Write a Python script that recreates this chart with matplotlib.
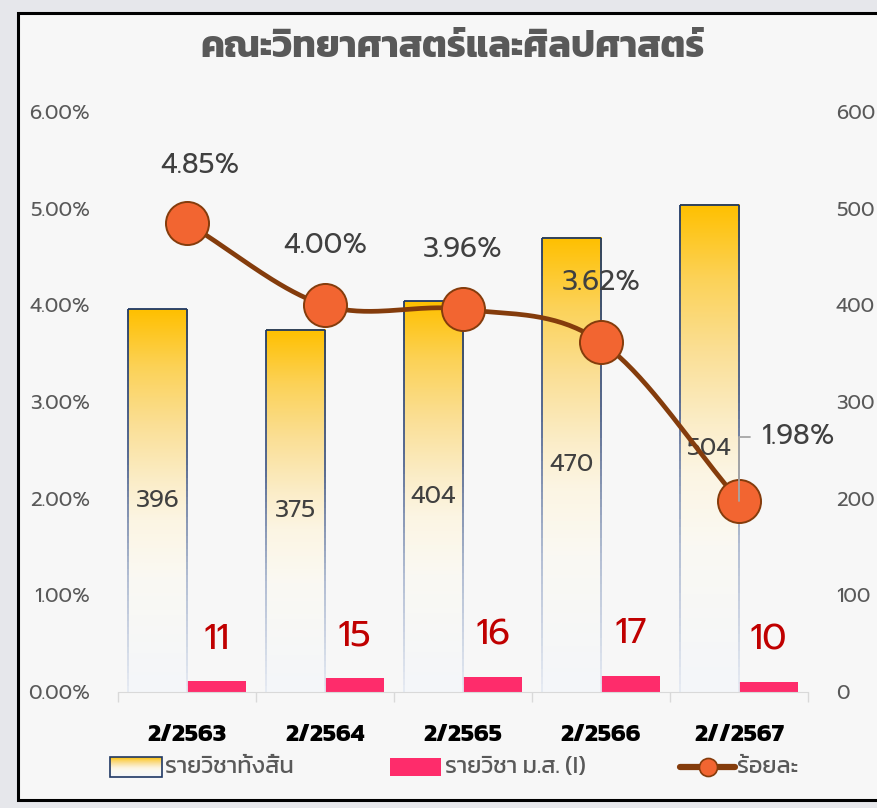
import numpy as np
import matplotlib
matplotlib.use('Agg')
import matplotlib.pyplot as plt
from matplotlib.colors import LinearSegmentedColormap
from matplotlib.collections import LineCollection
from matplotlib.patches import Rectangle
from matplotlib.ticker import PercentFormatter, FixedLocator

# ข้อมูล
terms      = ['2/2563', '2/2564', '2/2565', '2/2566', '2//2567']
total_subj = [396, 375, 404, 470, 504]
ms_subj    = [11, 15, 16, 17, 10]
pct        = [4.85, 4.00, 3.96, 3.62, 1.98]

NUM_FONT  = ['Prompt', 'DejaVu Sans']
THAI_FONT = ['Kanit', 'DejaVu Sans']
GREY      = '#595959'
DARK      = '#404040'
NAVY      = '#1F3864'
PINK      = '#FE2C6B'
BROWN     = '#843C0C'
ORANGE    = '#F26531'

plt.rcParams['font.family'] = NUM_FONT

W, H = 878, 808
fig = plt.figure(figsize=(W / 100, H / 100), dpi=100)
fig.patch.set_facecolor('#E6E7EB')

# พื้นหลัง + กรอบ
bg = fig.add_axes([0, 0, 1, 1], zorder=-5)
bg.set_xlim(0, W); bg.set_ylim(H, 0); bg.axis('off')
bg.add_patch(Rectangle((18, 13), W, 787, facecolor='#F7F7F7', edgecolor='black', lw=2.2))

# แกนหลัก (ร้อยละ) และแกนรอง (จำนวนรายวิชา)
ax = fig.add_axes([118 / W, 1 - 692 / H, 690 / W, 580 / H])
axr = ax.twinx()
ax.set_zorder(axr.get_zorder() + 1)
ax.patch.set_visible(False)
axr.patch.set_visible(False)

x = np.arange(len(terms))
bw = 0.43

gold = LinearSegmentedColormap.from_list('gold', [
    (0.0, '#F4F6FA'), (0.3, '#FAF9F3'), (0.45, '#FCF5E3'), (0.55, '#FBEDC8'),
    (0.7, '#FADF95'), (0.85, '#FCD257'), (1.0, '#FFC000')])
edge = LinearSegmentedColormap.from_list('edge', [
    (0.0, '#E4E9F2'), (0.3, '#A9B6CE'), (0.6, '#4A5F8C'), (1.0, NAVY)])
grad = np.linspace(0, 1, 256).reshape(-1, 1)

for i, v in enumerate(total_subj):
    x0, x1 = x[i] - bw, x[i]
    axr.imshow(grad, cmap=gold, origin='lower', aspect='auto',
               extent=[x0, x1, 0, v], zorder=2, interpolation='bicubic')
    ys = np.linspace(0, v, 60)
    for xe in (x0, x1):
        segs = [[(xe, ys[k]), (xe, ys[k + 1])] for k in range(len(ys) - 1)]
        lc = LineCollection(segs, colors=edge(ys[:-1] / v), linewidths=1.3, zorder=3)
        axr.add_collection(lc)
    axr.plot([x0, x1], [v, v], color=NAVY, lw=1.3, zorder=3, solid_capstyle='butt')
    axr.text(x[i] - bw / 2, v / 2, f'{v}', ha='center', va='center',
             fontsize=17.5, color=DARK, zorder=4)

axr.bar(x, ms_subj, width=bw, align='edge', color=PINK, zorder=2)
for i, v in enumerate(ms_subj):
    axr.annotate(f'{v}', (x[i] + bw / 2, v), xytext=(0, 42), textcoords='offset pixels',
                 ha='center', va='center', fontsize=26, color='#C00000')


def smooth(xs, ys, n=40):
    # Catmull-Rom ผ่านทุกจุด
    px = np.concatenate([[2 * xs[0] - xs[1]], xs, [2 * xs[-1] - xs[-2]]])
    py = np.concatenate([[2 * ys[0] - ys[1]], ys, [2 * ys[-1] - ys[-2]]])
    ox, oy = [], []
    t = np.linspace(0, 1, n)
    for k in range(1, len(px) - 2):
        for p, out in ((px, ox), (py, oy)):
            p0, p1, p2, p3 = p[k - 1], p[k], p[k + 1], p[k + 2]
            out.extend(0.5 * (2 * p1 + (-p0 + p2) * t + (2 * p0 - 5 * p1 + 4 * p2 - p3) * t ** 2
                              + (-p0 + 3 * p1 - 3 * p2 + p3) * t ** 3))
    return np.array(ox), np.array(oy)


frac = np.array(pct) / 100
sx, sy = smooth(x.astype(float), frac)
ax.plot(sx, sy, color=BROWN, lw=3.4, zorder=5, solid_capstyle='round')
ax.plot(x, frac, ls='none', marker='o', ms=31, mfc=ORANGE, mec=BROWN, mew=1.4, zorder=6)

offsets = [(13, 58), (0, 60), (0, 60), (0, 60)]
for i in range(4):
    ax.annotate(f'{pct[i]:.2f}%', (x[i], frac[i]), xytext=offsets[i], textcoords='offset pixels',
                ha='center', va='center', fontsize=20, color=DARK, zorder=7)
ax.annotate(f'{pct[4]:.2f}%', (x[4], frac[4]), xytext=(23, 64), textcoords='offset pixels',
            ha='left', va='center', fontsize=20, color=DARK, zorder=7,
            arrowprops=dict(arrowstyle='-', color='#A6A6A6', lw=1.3, shrinkA=7, shrinkB=0,
                            connectionstyle='angle,angleA=180,angleB=90,rad=0'))

# แกน
ax.set_xlim(-0.5, len(terms) - 0.5)
ax.set_ylim(0, 0.06)
axr.set_ylim(0, 600)
ax.set_yticks(np.arange(0, 0.061, 0.01))
ax.yaxis.set_major_formatter(PercentFormatter(xmax=1, decimals=2))
axr.set_yticks(np.arange(0, 601, 100))
ax.tick_params(axis='y', length=0, pad=20, labelsize=14.5, labelcolor=GREY)
axr.tick_params(axis='y', length=0, pad=20, labelsize=14.5, labelcolor=GREY)
ax.set_xticks(x)
ax.set_xticklabels(terms, fontsize=18, fontweight='bold', family=THAI_FONT, color='black')
ax.tick_params(axis='x', which='major', length=0, pad=23)
ax.xaxis.set_minor_locator(FixedLocator(np.arange(-0.5, len(terms), 1)))
ax.tick_params(axis='x', which='minor', length=7, color='#D9D9D9', width=1)
for a in (ax, axr):
    for s in ('top', 'left', 'right'):
        a.spines[s].set_visible(False)
axr.spines['bottom'].set_visible(False)
ax.spines['bottom'].set_color('#D9D9D9')

fig.text(453 / W, 1 - 48 / H, 'คณะวิทยาศาสตร์และศิลปศาสตร์', ha='center', va='center',
         fontsize=27, fontweight='bold', family=THAI_FONT, color=GREY)

# คำอธิบายสัญลักษณ์
lg = fig.add_axes([0, 0, 1, 1], zorder=10)
lg.set_xlim(0, W); lg.set_ylim(H, 0); lg.axis('off')
lg.imshow(grad, cmap=gold, origin='lower', aspect='auto', extent=[110, 162, 777, 757])
lg.add_patch(Rectangle((110, 757), 52, 20, fill=False, edgecolor=NAVY, lw=1.2))
lg.add_patch(Rectangle((390, 758), 51, 18, facecolor=PINK, lw=0))
lg.plot([680, 735], [767, 767], color=BROWN, lw=4.5, solid_capstyle='round')
lg.plot([708], [767], marker='o', ms=13, mfc=ORANGE, mec=BROWN, mew=1.2)
lg.set_xlim(0, W); lg.set_ylim(H, 0)
for tx, label in ((165, 'รายวิชาทั้งสิ้น'), (445, 'รายวิชา ม.ส. (I)'), (737, 'ร้อยละ')):
    lg.text(tx, 767, label, ha='left', va='center', fontsize=17, family=THAI_FONT, color=GREY)

fig.savefig('out.png', dpi=100, facecolor=fig.get_facecolor())
